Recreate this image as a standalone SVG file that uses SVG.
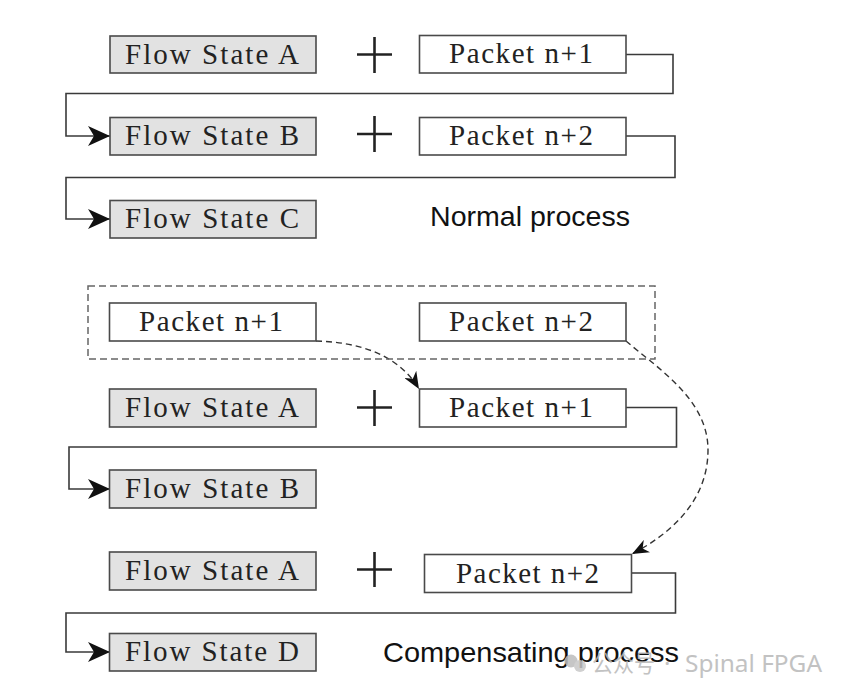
<svg xmlns="http://www.w3.org/2000/svg" width="849" height="698" viewBox="0 0 849 698">
<defs>
<style>
.fs{fill:#e2e2e2;stroke:#4a4a4a;stroke-width:1.6}
.pk{fill:#ffffff;stroke:#4a4a4a;stroke-width:1.6}
.mono{font-family:"Liberation Serif","DejaVu Serif",serif;font-size:29px;fill:#222}
.lbl{font-family:"Liberation Sans",Arial,sans-serif;font-size:28.5px;fill:#111}
.wire{fill:none;stroke:#3a3a3a;stroke-width:1.6}
.dash{fill:none;stroke:#333;stroke-width:1.4;stroke-dasharray:6 4}
.plus{stroke:#222;stroke-width:2.6}
.wm{font-family:"Noto Sans","Noto Sans CJK SC",sans-serif;font-size:24px;fill:#b8b8b8}
</style>
<marker id="arr" markerUnits="userSpaceOnUse" viewBox="0 0 22 20" refX="22" refY="10" markerWidth="22" markerHeight="20" orient="auto">
<path d="M0,0 L22,10 L0,20 L6,10 z" fill="#111"/>
</marker>
<marker id="sarr" markerUnits="userSpaceOnUse" viewBox="0 0 17 14" refX="17" refY="7" markerWidth="17" markerHeight="14" orient="auto">
<path d="M0,0 L17,7 L0,14 L5,7 z" fill="#111"/>
</marker>
</defs>
<rect width="849" height="698" fill="#ffffff"/>

<g id="connectors">
<polyline class="wire" points="626,54.5 673,54.5 673,93.5 66,93.5 66,136 110,136" marker-end="url(#arr)"/>
<polyline class="wire" points="626,136 675,136 675,177.5 66,177.5 66,219 110,219" marker-end="url(#arr)"/>
<polyline class="wire" points="626,407.5 676.5,407.5 676.5,447 69,447 69,489 110,489" marker-end="url(#arr)"/>
<polyline class="wire" points="632,573 675.5,573 675.5,613 66,613 66,652 110,652" marker-end="url(#arr)"/>
<path class="dash" d="M316,341 C358,342 398,354 419,389" marker-end="url(#sarr)"/>
<path class="dash" d="M626,341 C660,370 708,400 708,450 C708,500 672,533 632,554" marker-end="url(#sarr)"/>
</g>

<g id="buffer">
<rect x="88" y="286" width="567" height="73" fill="none" stroke="#666" stroke-width="1.5" stroke-dasharray="7 4"/>
</g>

<g id="plus-signs">
<line class="plus" x1="357" y1="54.5" x2="392" y2="54.5"/><line class="plus" x1="374.5" y1="37" x2="374.5" y2="73"/>
<line class="plus" x1="357" y1="134" x2="392" y2="134"/><line class="plus" x1="374.5" y1="116" x2="374.5" y2="152"/>
<line class="plus" x1="357" y1="407.5" x2="392" y2="407.5"/><line class="plus" x1="374.5" y1="390" x2="374.5" y2="426"/>
<line class="plus" x1="357" y1="569.5" x2="392" y2="569.5"/><line class="plus" x1="374.5" y1="552" x2="374.5" y2="587"/>
</g>

<g id="fsA1"><rect class="fs" x="110" y="36" width="206" height="37"/><text class="mono" x="125" y="63.5" textLength="174" lengthAdjust="spacing">Flow State A</text></g>
<g id="pk1a"><rect class="pk" x="419.5" y="35.5" width="206.5" height="37.5"/><text class="mono" x="449" y="63" textLength="144" lengthAdjust="spacing">Packet n+1</text></g>
<g id="fsB1"><rect class="fs" x="110" y="117.5" width="206" height="37.5"/><text class="mono" x="125" y="145" textLength="174" lengthAdjust="spacing">Flow State B</text></g>
<g id="pk2a"><rect class="pk" x="419.5" y="117.5" width="206.5" height="37.5"/><text class="mono" x="449" y="145" textLength="144" lengthAdjust="spacing">Packet n+2</text></g>
<g id="fsC1"><rect class="fs" x="110" y="200.5" width="206" height="37.5"/><text class="mono" x="125" y="228" textLength="174" lengthAdjust="spacing">Flow State C</text></g>
<g id="normal-label"><text class="lbl" x="430" y="226" textLength="200" lengthAdjust="spacingAndGlyphs">Normal process</text></g>

<g id="pk1b"><rect class="pk" x="109.5" y="303" width="206.5" height="38"/><text class="mono" x="139" y="331" textLength="144" lengthAdjust="spacing">Packet n+1</text></g>
<g id="pk2b"><rect class="pk" x="419.5" y="303" width="206.5" height="38"/><text class="mono" x="449" y="331" textLength="144" lengthAdjust="spacing">Packet n+2</text></g>
<g id="fsA2"><rect class="fs" x="109.5" y="389" width="206.5" height="38"/><text class="mono" x="125" y="417" textLength="174" lengthAdjust="spacing">Flow State A</text></g>
<g id="pk1c"><rect class="pk" x="419.5" y="389" width="206.5" height="38"/><text class="mono" x="449" y="417" textLength="144" lengthAdjust="spacing">Packet n+1</text></g>
<g id="fsB2"><rect class="fs" x="109.5" y="470" width="206.5" height="38"/><text class="mono" x="125" y="498" textLength="174" lengthAdjust="spacing">Flow State B</text></g>
<g id="fsA3"><rect class="fs" x="109.5" y="552" width="206.5" height="38"/><text class="mono" x="125" y="580" textLength="174" lengthAdjust="spacing">Flow State A</text></g>
<g id="pk2c"><rect class="pk" x="424.5" y="554.5" width="207" height="38"/><text class="mono" x="456" y="582.5" textLength="143" lengthAdjust="spacing">Packet n+2</text></g>
<g id="fsD"><rect class="fs" x="109.5" y="633.5" width="206.5" height="37.5"/><text class="mono" x="125" y="661" textLength="174" lengthAdjust="spacing">Flow State D</text></g>
<g id="comp-label"><text class="lbl" x="383" y="662" textLength="296" lengthAdjust="spacingAndGlyphs">Compensating process</text></g>

<g id="watermark" opacity="0.85">
<circle cx="571" cy="661" r="6.5" fill="#bdbdbd"/>
<circle cx="580" cy="666" r="6" fill="#c8c8c8"/>
<text class="wm" x="592" y="672" textLength="63" lengthAdjust="spacingAndGlyphs">公众号</text>
<text class="wm" x="664" y="672">·</text>
<text class="wm" x="685" y="672" textLength="137" lengthAdjust="spacingAndGlyphs">Spinal FPGA</text>
</g>
</svg>
